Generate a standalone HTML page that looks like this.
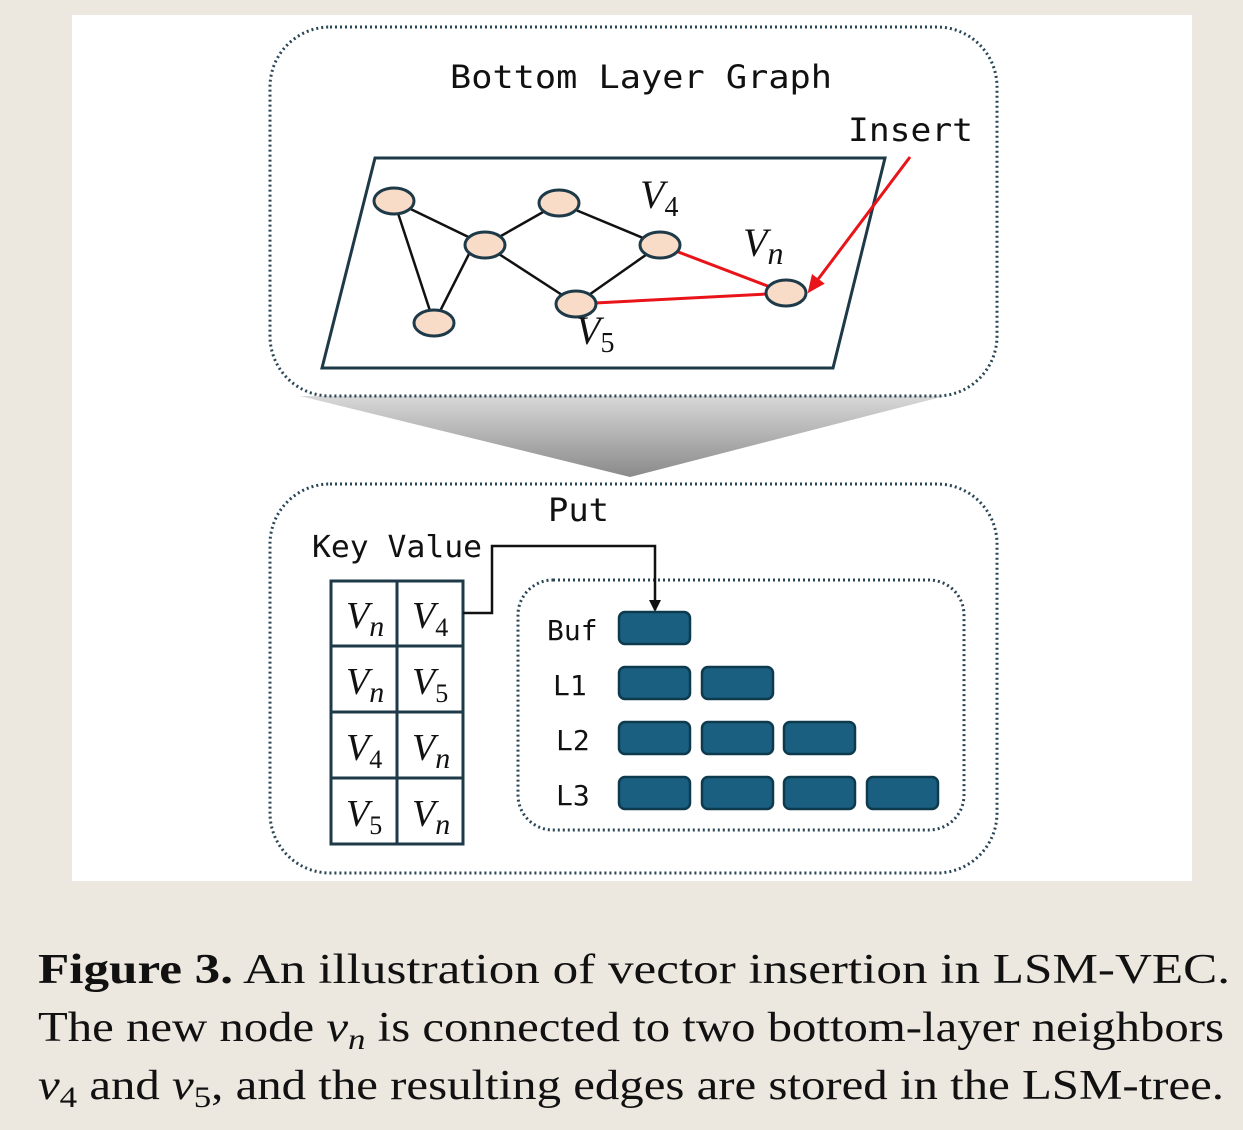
<!DOCTYPE html>
<html><head><meta charset="utf-8"><style>
html,body{margin:0;padding:0;background:#ece7df;}
svg{display:block;}
.m{font-family:"DejaVu Sans Mono","Liberation Mono",monospace;}
.v{font-family:"Liberation Serif",serif;font-style:italic;}
.c{font-family:"Liberation Serif",serif;font-size:42px;fill:#111;}
</style></head><body>
<svg width="1243" height="1130" viewBox="0 0 1243 1130" xmlns="http://www.w3.org/2000/svg">
<defs>
<linearGradient id="g" x1="0" y1="0" x2="0" y2="1">
<stop offset="0" stop-color="#d8d8d8"/><stop offset="1" stop-color="#8a8a8a"/></linearGradient>
<marker id="ar" markerWidth="18" markerHeight="16" refX="14" refY="8" orient="auto" markerUnits="userSpaceOnUse"><path d="M0,0 L18,8 L0,16 z" fill="#e8141a"/></marker>
<marker id="ab" markerWidth="12" markerHeight="12" refX="10" refY="6" orient="auto" markerUnits="userSpaceOnUse"><path d="M0,0 L12,6 L0,12 z" fill="#111"/></marker>
</defs>
<rect x="72" y="15" width="1120" height="866" fill="#fff"/>
<polygon points="300,396 945,396 630,477" fill="url(#g)"/>
<rect x="270" y="27" width="727" height="369" rx="60" fill="#fff" stroke="#2a4555" stroke-width="3" stroke-dasharray="2,3"/>
<rect x="270" y="484" width="727" height="389" rx="60" fill="#fff" stroke="#2a4555" stroke-width="3" stroke-dasharray="2,3"/>
<rect x="518" y="580" width="446" height="250" rx="35" fill="#fff" stroke="#2a4555" stroke-width="3" stroke-dasharray="2,3"/>
<text x="450" y="88" class="m" font-size="32" fill="#111" textLength="382" lengthAdjust="spacingAndGlyphs">Bottom Layer Graph</text>
<text x="848" y="141" class="m" font-size="32" fill="#111" textLength="125" lengthAdjust="spacingAndGlyphs">Insert</text>
<polygon points="375,158 885,158 833,368 322,368" fill="#fff" stroke="#1e3a48" stroke-width="3"/>
<g stroke="#111" stroke-width="2.5">
<line x1="394" y1="201" x2="485" y2="245"/><line x1="394" y1="201" x2="434" y2="323"/>
<line x1="434" y1="323" x2="470" y2="252"/><line x1="485" y1="245" x2="559" y2="203"/>
<line x1="485" y1="245" x2="576" y2="304"/><line x1="559" y1="203" x2="660" y2="245"/>
<line x1="660" y1="245" x2="576" y2="304"/></g>
<g stroke="#e8141a" stroke-width="3">
<line x1="660" y1="245" x2="786" y2="293"/><line x1="576" y1="304" x2="786" y2="293"/>
<line x1="910" y1="157" x2="810" y2="290" marker-end="url(#ar)"/></g>
<g fill="#f8dcc8" stroke="#1e3a48" stroke-width="3">
<ellipse cx="394" cy="201" rx="20" ry="13"/><ellipse cx="485" cy="245" rx="20" ry="13"/>
<ellipse cx="559" cy="203" rx="20" ry="13"/><ellipse cx="660" cy="245" rx="20" ry="13"/>
<ellipse cx="576" cy="304" rx="20" ry="13"/><ellipse cx="434" cy="323" rx="20" ry="13"/>
<ellipse cx="786" cy="293" rx="20" ry="13"/></g>
<text x="640" y="208" class="v" font-size="40" fill="#111">V<tspan font-style="normal" font-size="28" dy="8">4</tspan></text>
<text x="743" y="256" class="v" font-size="40" fill="#111">V<tspan font-size="32" dy="8">n</tspan></text>
<text x="576" y="344" class="v" font-size="40" fill="#111">V<tspan font-style="normal" font-size="28" dy="8">5</tspan></text>
<text x="548" y="521" class="m" font-size="32" fill="#111" textLength="61" lengthAdjust="spacingAndGlyphs">Put</text>
<text x="312" y="557" class="m" font-size="30" fill="#111" textLength="170" lengthAdjust="spacingAndGlyphs">Key Value</text>
<g fill="#fff" stroke="#1e3a48" stroke-width="3">
<rect x="331" y="581" width="132" height="263"/></g>
<g stroke="#1e3a48" stroke-width="3">
<line x1="397" y1="581" x2="397" y2="844"/><line x1="331" y1="646" x2="463" y2="646"/>
<line x1="331" y1="712" x2="463" y2="712"/><line x1="331" y1="778" x2="463" y2="778"/></g>
<g class="v" font-size="38" fill="#111">
<text x="346" y="628">V<tspan font-size="30" dy="8">n</tspan></text>
<text x="412" y="628">V<tspan font-style="normal" font-size="26" dy="8">4</tspan></text>
<text x="346" y="694">V<tspan font-size="30" dy="8">n</tspan></text>
<text x="412" y="694">V<tspan font-style="normal" font-size="26" dy="8">5</tspan></text>
<text x="346" y="760">V<tspan font-style="normal" font-size="26" dy="8">4</tspan></text>
<text x="412" y="760">V<tspan font-size="30" dy="8">n</tspan></text>
<text x="346" y="826">V<tspan font-style="normal" font-size="26" dy="8">5</tspan></text>
<text x="412" y="826">V<tspan font-size="30" dy="8">n</tspan></text></g>
<polyline points="463,613 492,613 492,546 655,546 655,610" fill="none" stroke="#111" stroke-width="2.5" marker-end="url(#ab)"/>
<g class="m" font-size="28" fill="#111">
<text x="547" y="640">Buf</text><text x="553" y="695">L1</text>
<text x="556" y="750">L2</text><text x="556" y="805">L3</text></g>
<g fill="#1a5f80" stroke="#0e3a4e" stroke-width="2.5">
<rect x="619" y="612" width="71" height="32" rx="6"/>
<rect x="619" y="667" width="71" height="32" rx="6"/><rect x="702" y="667" width="71" height="32" rx="6"/>
<rect x="619" y="722" width="71" height="32" rx="6"/><rect x="702" y="722" width="71" height="32" rx="6"/><rect x="784" y="722" width="71" height="32" rx="6"/>
<rect x="619" y="777" width="71" height="32" rx="6"/><rect x="702" y="777" width="71" height="32" rx="6"/><rect x="784" y="777" width="71" height="32" rx="6"/><rect x="867" y="777" width="71" height="32" rx="6"/></g>
<text x="38" y="983" class="c" textLength="1192" lengthAdjust="spacingAndGlyphs"><tspan font-weight="bold">Figure 3.</tspan> An illustration of vector insertion in LSM-VEC.</text>
<text x="38" y="1041" class="c" textLength="1186" lengthAdjust="spacingAndGlyphs">The new node <tspan font-style="italic">v</tspan><tspan font-style="italic" font-size="30" dy="8">n</tspan><tspan dy="-8"> is connected to two bottom-layer neighbors</tspan></text>
<text x="38" y="1099" class="c" textLength="1186" lengthAdjust="spacingAndGlyphs"><tspan font-style="italic">v</tspan><tspan font-size="30" dy="8">4</tspan><tspan dy="-8"> and </tspan><tspan font-style="italic">v</tspan><tspan font-size="30" dy="8">5</tspan><tspan dy="-8">, and the resulting edges are stored in the LSM-tree.</tspan></text>
</svg>
</body></html>
